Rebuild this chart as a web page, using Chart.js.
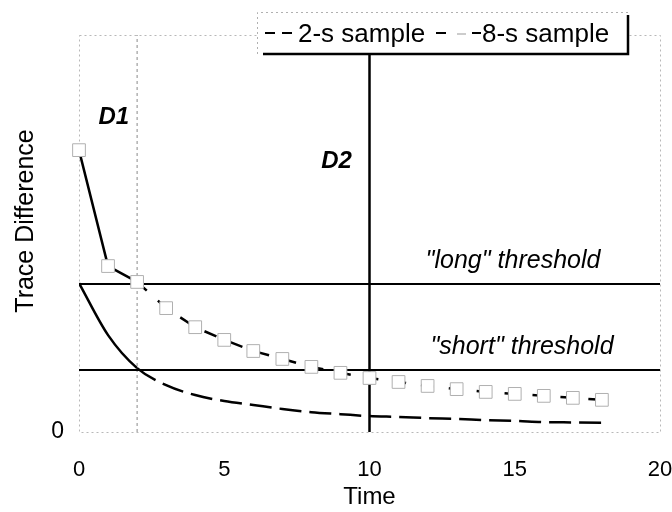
<!DOCTYPE html>
<html>
<head>
<meta charset="utf-8">
<script src="https://cdn.jsdelivr.net/npm/chart.js@4.4.1/dist/chart.umd.min.js"></script>
<style>
    html, body { margin: 0; padding: 0; background: #fff; }
    #wrap { width: 672px; height: 512px; }
</style>
</head>
<body>
<div id="wrap"><canvas id="chart"></canvas></div>
<script>
(function () {
    "use strict";

    // Data
    const times = [0, 1, 2, 3, 4, 5, 6, 7, 8, 9, 10, 11, 12, 13, 14, 15, 16, 17, 18];
    const sample8 = [71.0, 41.8, 37.8, 31.2, 26.4, 23.2, 20.4, 18.4, 16.4, 14.9, 13.6, 12.6, 11.6, 10.8, 10.1, 9.6, 9.1, 8.6, 8.1];
    const sample2 = [37.5, 24.4, 16.1, 11.8, 9.3, 7.8, 6.8, 5.8, 5.0, 4.5, 4.0, 3.8, 3.5, 3.3, 3.0, 2.8, 2.5, 2.4, 2.3];
    const longThreshold = 37.3;
    const shortThreshold = 15.6;
    const d1Time = 2;
    const d2Time = 10;
    const d2Top = 95;
    const xTicks = [0, 5, 10, 15, 20];
    const yTicks = [0];
    const seriesNames = ["2-s sample", "8-s sample"];

    const FONT = "'Liberation Sans', Arial, sans-serif";
    Chart.defaults.font.family = FONT;
    Chart.defaults.color = "#000";

    const pts = (arr) => times.map((t, i) => ({ x: t, y: arr[i] }));
    // solid until the D1 point, dashed afterwards
    const dashAfter = (idx, dash) => (ctx) => (ctx.p0DataIndex >= idx ? dash : undefined);

    const frame = {
        id: "frame",
        beforeDatasetsDraw(chart) {
            const { ctx, chartArea: a } = chart;
            ctx.save();
            ctx.strokeStyle = "#b8b8b8";
            ctx.lineWidth = 1;
            ctx.setLineDash([2, 3]);
            ctx.strokeRect(a.left + 0.5, a.top + 0.5, a.right - a.left, a.bottom - a.top);
            ctx.restore();
        },
    };

    const notes = {
        id: "notes",
        afterDraw(chart) {
            const { ctx } = chart;
            const x = chart.scales.x;
            const y = chart.scales.y;
            ctx.save();
            ctx.fillStyle = "#000";
            ctx.textBaseline = "alphabetic";

            // y axis title
            ctx.save();
            ctx.translate(33, 221);
            ctx.rotate(-Math.PI / 2);
            ctx.font = "25px " + FONT;
            ctx.textAlign = "center";
            ctx.fillText("Trace Difference", 0, 0);
            ctx.restore();

            ctx.font = "italic bold 24px " + FONT;
            ctx.textAlign = "center";
            ctx.fillText("D1", x.getPixelForValue(1.2), 124);
            ctx.fillText("D2", x.getPixelForValue(d2Time) - 33, 168);

            ctx.font = "italic 25px " + FONT;
            ctx.fillText("\"long\" threshold", 513, y.getPixelForValue(longThreshold) - 16);
            ctx.fillText("\"short\" threshold", 522, y.getPixelForValue(shortThreshold) - 16);

            // legend box
            const L = 257, T = 12, R = 628, B = 54;
            ctx.fillStyle = "#fff";
            ctx.fillRect(L, T, R - L, B - T);
            ctx.strokeStyle = "#b0b0b0";
            ctx.lineWidth = 1;
            ctx.setLineDash([2, 3]);
            ctx.beginPath();
            ctx.moveTo(L + 0.5, B);
            ctx.lineTo(L + 0.5, T + 0.5);
            ctx.lineTo(R, T + 0.5);
            ctx.stroke();
            ctx.setLineDash([]);
            ctx.strokeStyle = "#000";
            ctx.lineWidth = 2.5;
            ctx.beginPath();
            ctx.moveTo(L + 6, B);
            ctx.lineTo(R, B);
            ctx.lineTo(R, T + 3);
            ctx.stroke();

            ctx.lineWidth = 2;
            ctx.beginPath();
            ctx.moveTo(265, 33); ctx.lineTo(275, 33);
            ctx.moveTo(282, 33); ctx.lineTo(292, 33);
            ctx.moveTo(436, 33); ctx.lineTo(446, 33);
            ctx.moveTo(472, 33); ctx.lineTo(481, 33);
            ctx.stroke();
            ctx.strokeStyle = "#999";
            ctx.lineWidth = 1;
            ctx.beginPath();
            ctx.moveTo(457, 34); ctx.lineTo(466, 34);
            ctx.stroke();

            ctx.fillStyle = "#000";
            ctx.font = "26px " + FONT;
            ctx.textAlign = "left";
            ctx.fillText(seriesNames[0], 298, 42);
            ctx.fillText(seriesNames[1], 482, 42);
            ctx.restore();
        },
    };

    new Chart(document.getElementById("chart"), {
        type: "line",
        data: {
            datasets: [
                {
                    label: seriesNames[1],
                    data: pts(sample8),
                    borderColor: "#000",
                    borderWidth: 2.5,
                    tension: 0,
                    clip: false,
                    pointStyle: "rect",
                    pointRadius: 9,
                    pointBorderWidth: 1,
                    pointBorderColor: "#b0b0b0",
                    pointBackgroundColor: "#fff",
                    segment: { borderDash: dashAfter(2, [13, 15]) },
                },
                {
                    label: seriesNames[0],
                    data: pts(sample2),
                    borderColor: "#000",
                    borderWidth: 2.5,
                    cubicInterpolationMode: "monotone",
                    pointRadius: 0,
                    segment: { borderDash: dashAfter(2, [22, 8]) },
                },
                {
                    label: "long",
                    data: [{ x: 0, y: longThreshold }, { x: 20, y: longThreshold }],
                    borderColor: "#000",
                    borderWidth: 2,
                    pointRadius: 0,
                },
                {
                    label: "short",
                    data: [{ x: 0, y: shortThreshold }, { x: 20, y: shortThreshold }],
                    borderColor: "#000",
                    borderWidth: 2,
                    pointRadius: 0,
                },
                {
                    label: "D2",
                    data: [{ x: d2Time, y: 0 }, { x: d2Time, y: d2Top }],
                    borderColor: "#000",
                    borderWidth: 2.5,
                    pointRadius: 0,
                },
                {
                    label: "D1",
                    data: [{ x: d1Time, y: 0 }, { x: d1Time, y: 100 }],
                    borderColor: "#8a8a8a",
                    borderWidth: 1,
                    borderDash: [3, 3],
                    pointRadius: 0,
                },
            ],
        },
        options: {
            animation: false,
            responsive: true,
            maintainAspectRatio: false,
            layout: { padding: { top: 35, right: 12, left: 0, bottom: 0 } },
            plugins: {
                legend: { display: false },
                tooltip: { enabled: false },
            },
            scales: {
                x: {
                    type: "linear",
                    min: 0,
                    max: 20,
                    afterBuildTicks: (s) => { s.ticks = xTicks.map((v) => ({ value: v })); },
                    afterFit: (s) => { s.height = 80; s.paddingLeft = 0; s.paddingRight = 0; },
                    ticks: { font: { size: 22 }, padding: 25, color: "#000", maxRotation: 0 },
                    grid: { display: false, drawTicks: false },
                    border: { display: false },
                    title: { display: true, text: "Time", font: { size: 24 }, padding: 0, color: "#000" },
                },
                y: {
                    min: 0,
                    max: 100,
                    afterBuildTicks: (s) => { s.ticks = yTicks.map((v) => ({ value: v })); },
                    afterFit: (s) => { s.width = 79; s.paddingTop = 0; s.paddingBottom = 0; },
                    ticks: { font: { size: 23 }, padding: 15, color: "#000" },
                    grid: { display: false, drawTicks: false },
                    border: { display: false },
                    title: { display: false },
                },
            },
        },
        plugins: [frame, notes],
    });
})();
</script>
</body>
</html>
